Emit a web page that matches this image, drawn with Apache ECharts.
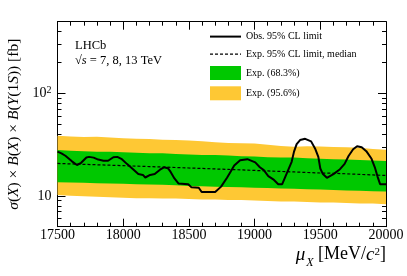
<!DOCTYPE html>
<html><head><meta charset="utf-8">
<script src="https://cdn.jsdelivr.net/npm/echarts@6/dist/echarts.min.js"></script>
<style>html,body{margin:0;padding:0;background:#fff}#c{width:407px;height:276px}</style>
</head><body><div id="c"></div>
<script>
// ---- data ----
const bandMass = [17500,17600,17700,17800,17900,18000,18100,18200,18300,18400,18500,18600,18700,18800,18900,19000,19100,19200,19300,19400,19500,19600,19700,19800,19900,20000];
const yel95Up  = [38.5,38.0,37.5,37.8,37.0,36.5,36.0,35.8,35.3,35.0,34.6,34.0,33.3,32.8,32.6,32.4,31.5,30.6,30.2,30.5,30.3,30.0,29.8,29.4,28.6,28.2];
const grn68Up  = [28.0,27.5,27.3,27.0,27.0,26.6,26.3,26.0,26.0,25.6,25.3,25.0,25.1,24.7,24.4,24.2,23.8,23.7,23.6,23.3,23.0,22.8,22.6,22.4,22.1,21.9];
const expMedian= [20.7,20.5,20.3,20.1,19.9,19.7,19.5,19.3,19.1,18.9,18.7,18.5,18.3,18.1,17.9,17.7,17.5,17.3,17.1,16.9,16.7,16.6,16.4,16.2,16.0,15.8];
const grn68Lo  = [13.6,13.5,13.4,13.3,13.2,13.1,13.0,12.9,12.8,12.7,12.5,12.4,12.3,12.2,12.1,12.0,11.9,11.8,11.7,11.6,11.5,11.4,11.3,11.2,11.1,11.0];
const yel95Lo  = [10.2,10.0,9.9,9.8,9.7,9.6,9.5,9.5,9.4,9.4,9.3,9.2,9.2,9.1,9.1,9.0,8.9,8.8,8.8,8.7,8.6,8.6,8.5,8.4,8.4,8.3];
const obsMass  = [17500,17530,17560,17610,17648,17680,17720,17740,17775,17810,17850,17885,17925,17955,17990,18030,18075,18115,18150,18168,18205,18240,18280,18310,18340,18360,18390,18420,18495,18520,18575,18597,18700,18745,18790,18815,18845,18890,18945,19005,19040,19070,19104,19142,19180,19210,19244,19282,19300,19320,19346,19385,19430,19460,19485,19500,19520,19550,19600,19650,19685,19715,19750,19780,19815,19850,19890,19915,19935,19955,20000];
const obsLimit = [27.0,26.0,24.6,21.7,20.0,21.0,23.7,24.0,23.6,22.6,22.0,22.0,23.8,24.0,22.8,20.4,18.2,16.3,16.0,15.1,16.0,16.3,18.0,19.0,18.6,17.2,14.8,13.2,13.0,12.1,12.0,10.9,10.9,12.3,15.0,17.0,19.8,22.3,22.8,21.2,19.0,17.8,15.6,14.5,13.0,13.0,16.5,21.5,27.0,32.0,35.0,36.0,34.0,29.0,24.0,18.5,16.3,15.0,16.3,18.2,20.5,24.5,28.5,30.5,29.8,27.3,23.0,19.0,15.5,13.0,13.0];
const yMajorTicks = [10, 100];
const yMinorTicks = [5,6,7,8,9,20,30,40,50,60,70,80,90,200,300,400,500];
const labels = {
  obs: 'Obs. 95% CL limit',
  med: 'Exp. 95% CL limit, median',
  g68: 'Exp. (68.3%)',
  y95: 'Exp. (95.6%)'
};

const FONT = '"Liberation Serif", "DejaVu Serif", serif';
const GREEN = '#00c800';
const YELLOW = '#fec834';
const DASH = [3, 2];

function bandRender(upper, lower) {
  return function (params, api) {
    if (params.dataIndex !== 0) return;
    const pts = [];
    for (let i = 0; i < bandMass.length; i++) pts.push(api.coord([bandMass[i], upper[i]]));
    for (let i = bandMass.length - 1; i >= 0; i--) pts.push(api.coord([bandMass[i], lower[i]]));
    return { type: 'polygon', shape: { points: pts }, style: { fill: api.visual('color') } };
  };
}

const blackLine = { show: true, lineStyle: { color: '#000', width: 1 } };
function yAx(pos, ticks, len, withLine) {
  return {
    type: 'log', logBase: 10, min: 5, max: 500, position: pos,
    axisLine: withLine ? blackLine : { show: false },
    axisTick: { show: true, inside: true, length: len, customValues: ticks, lineStyle: { color: '#000', width: 1 } },
    axisLabel: { show: false },
    splitLine: { show: false }, minorTick: { show: false }, minorSplitLine: { show: false }
  };
}
const yAxes = [
  yAx('left', yMajorTicks, 8, true),
  yAx('left', yMinorTicks, 4, false),
  yAx('right', yMajorTicks, 8, true),
  yAx('right', yMinorTicks, 4, false)
];
yAxes[0].axisLabel = {
  show: true, customValues: yMajorTicks, margin: 6, color: '#000', fontFamily: FONT, fontSize: 14,
  formatter: function (v) { return v >= 100 ? '{b|10}{s|2}' : '{b|10}'; },
  rich: { b: { fontFamily: FONT, fontSize: 14, color: '#000', lineHeight: 16 },
          s: { fontFamily: FONT, fontSize: 10, color: '#000', lineHeight: 10, verticalAlign: 'top' } }
};
yAxes[0].name = '{i|σ}{n|(}{i|X}{n|) × }{i|B}{n|(}{i|X}{n|) × }{i|B}{n|(}{i|Υ}{n|(1}{i|S}{n|)) [fb]}';
yAxes[0].nameLocation = 'middle';
yAxes[0].nameGap = 33;
yAxes[0].nameRotate = 90;
yAxes[0].nameTextStyle = {
  fontFamily: FONT, fontSize: 15.5, color: '#000',
  rich: { i: { fontFamily: FONT, fontSize: 15.5, fontStyle: 'italic', color: '#000' },
          n: { fontFamily: FONT, fontSize: 15.5, color: '#000' } }
};

function xAx(pos, withLabel) {
  return {
    type: 'value', min: 17500, max: 20000, interval: 500, position: pos,
    axisLine: blackLine,
    axisTick: { show: true, inside: true, length: 8, lineStyle: { color: '#000', width: 1 } },
    minorTick: { show: true, splitNumber: 5, length: 4, lineStyle: { color: '#000', width: 1 } },
    axisLabel: withLabel ? { show: true, margin: 2, color: '#000', fontFamily: FONT, fontSize: 14,
      showMinLabel: true, showMaxLabel: true, hideOverlap: false, formatter: function (v) { return String(v); } } : { show: false },
    splitLine: { show: false }, minorSplitLine: { show: false }
  };
}
const xAxes = [xAx('bottom', true), xAx('top', false)];
xAxes[0].name = '{i|μ}{sub|X}{n| [MeV/}{i|c}{sup|2}{n|]}';
xAxes[0].nameLocation = 'end';
xAxes[0].nameGap = 0;
xAxes[0].nameTextStyle = {
  align: 'right', verticalAlign: 'top', padding: [19, 0, 0, 0],
  fontFamily: FONT, fontSize: 18, color: '#000',
  rich: {
    i: { fontFamily: FONT, fontSize: 19, fontStyle: 'italic', color: '#000', lineHeight: 20, verticalAlign: 'top' },
    n: { fontFamily: FONT, fontSize: 18, color: '#000', lineHeight: 20, verticalAlign: 'top' },
    sub: { fontFamily: FONT, fontSize: 12, fontStyle: 'italic', color: '#000', lineHeight: 12, verticalAlign: 'top', padding: [11, 0, 0, 1] },
    sup: { fontFamily: FONT, fontSize: 11, color: '#000', lineHeight: 12, verticalAlign: 'top', padding: [1, 0, 0, 0] }
  }
};

const chart = echarts.init(document.getElementById('c'), null, { renderer: 'canvas' });
chart.setOption({
  animation: false,
  backgroundColor: '#fff',
  grid: { left: 57.5, right: 21, top: 21.7, bottom: 49.3, containLabel: false, outerBoundsMode: 'none' },
  xAxis: xAxes,
  yAxis: yAxes,
  legend: {
    orient: 'vertical', left: 209, top: 31, padding: 0, itemWidth: 31, itemHeight: 14, itemGap: 6.3,
    textStyle: { fontFamily: FONT, fontSize: 10, color: '#000' },
    data: [
      { name: labels.obs, itemStyle: { opacity: 0 }, lineStyle: { color: '#000', width: 2, type: 'solid' } },
      { name: labels.med, itemStyle: { opacity: 0 }, lineStyle: { color: '#000', width: 1.2, type: DASH } },
      { name: labels.g68, icon: 'rect' },
      { name: labels.y95, icon: 'rect' }
    ]
  },
  graphic: [
    { type: 'text', left: 75, top: 39, style: { text: 'LHCb', fontFamily: FONT, fontSize: 12.5, fill: '#000' } },
    { type: 'text', left: 75, top: 54, style: {
        text: '{n|√}{i|s}{n| = 7, 8, 13 TeV}', fontFamily: FONT, fontSize: 12.5, fill: '#000',
        rich: { n: { fontFamily: FONT, fontSize: 12.5, fill: '#000' }, i: { fontFamily: FONT, fontSize: 12.5, fontStyle: 'italic', fill: '#000' } } } }
  ],
  series: [
    { type: 'custom', name: labels.y95, xAxisIndex: 0, yAxisIndex: 0, renderItem: bandRender(yel95Up, yel95Lo),
      itemStyle: { color: YELLOW }, data: bandMass.map((m, i) => [m, yel95Up[i]]), encode: { x: 0, y: 1 }, silent: true },
    { type: 'custom', name: labels.g68, xAxisIndex: 0, yAxisIndex: 0, renderItem: bandRender(grn68Up, grn68Lo),
      itemStyle: { color: GREEN }, data: bandMass.map((m, i) => [m, grn68Up[i]]), encode: { x: 0, y: 1 }, silent: true },
    { type: 'line', name: labels.med, xAxisIndex: 0, yAxisIndex: 0, symbol: 'none',
      data: bandMass.map((m, i) => [m, expMedian[i]]),
      itemStyle: { color: '#000' }, lineStyle: { color: '#000', width: 1.2, type: DASH } },
    { type: 'line', name: labels.obs, xAxisIndex: 0, yAxisIndex: 0, symbol: 'none',
      data: obsMass.map((m, i) => [m, obsLimit[i]]),
      itemStyle: { color: '#000' }, lineStyle: { color: '#000', width: 2 } }
  ]
});
</script></body></html>
